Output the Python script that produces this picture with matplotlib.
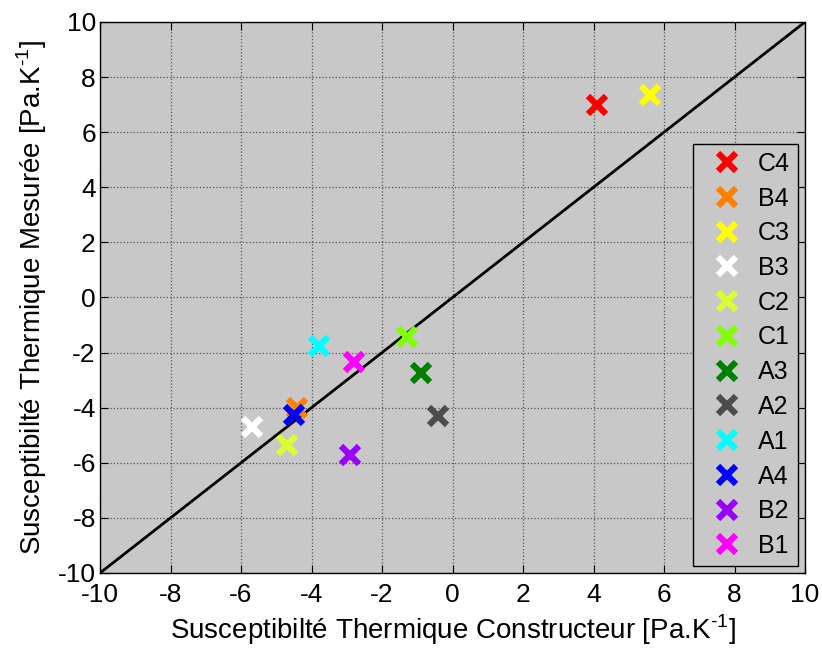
import matplotlib.pyplot as plt
import numpy as np

plt.rcParams['font.family'] = ['Liberation Sans', 'DejaVu Sans']
plt.rcParams['axes.unicode_minus'] = False
plt.rcParams['mathtext.fontset'] = 'custom'
plt.rcParams['mathtext.rm'] = 'Liberation Sans'

# data
labels = ['C4', 'B4', 'C3', 'B3', 'C2', 'C1', 'A3', 'A2', 'A1', 'A4', 'B2', 'B1']
x_constr = [4.1, -4.4, 5.6, -5.7, -4.7, -1.3, -0.9, -0.4, -3.8, -4.5, -2.9, -2.8]
y_mes = [7.0, -4.0, 7.35, -4.7, -5.35, -1.45, -2.75, -4.3, -1.75, -4.25, -5.7, -2.35]
colors = ['#ff0000', '#ff8000', '#ffff00', '#ffffff', '#d9ff33', '#80ff00',
          '#008000', '#4d4d4d', '#00ffff', '#0000ff', '#9900ff', '#ff00ff']

fig = plt.figure(figsize=(8.22, 6.5), dpi=100)
ax = fig.add_axes([100/822, 1-573/650, 705/822, 551/650])
ax.set_facecolor('#c8c8c8')

ax.plot([-10, 10], [-10, 10], color='k', linewidth=2)
for xi, yi, c, lab in zip(x_constr, y_mes, colors, labels):
    ax.plot(xi, yi, 'x', color=c, markersize=13, markeredgewidth=4.5, label=lab)

ax.set_xlim(-10, 10)
ax.set_ylim(-10, 10)
ax.set_xticks(np.arange(-10, 11, 2))
ax.set_yticks(np.arange(-10, 11, 2))
ax.tick_params(direction='in', top=True, right=True, labelsize=19, length=6)
ax.tick_params(axis='x', pad=7)
ax.tick_params(axis='y', pad=3)
ax.grid(True, color='#555555', linestyle=':', linewidth=0.9)
ax.set_axisbelow(True)
for s in ax.spines.values():
    s.set_linewidth(1)

ax.set_xlabel('Susceptibilté Thermique Constructeur [Pa.K$^{\\text{-1}}$]', fontsize=20, labelpad=4)
ax.set_ylabel('Susceptibilté Thermique Mesurée [Pa.K$^{\\text{-1}}$]', fontsize=20, labelpad=6)

leg = ax.legend(loc='lower right', fontsize=18, frameon=True, fancybox=False,
                facecolor='#c8c8c8', edgecolor='k', framealpha=1,
                labelspacing=0.43, handlelength=2.1, handletextpad=0.2,
                borderaxespad=0.3, borderpad=0.3)
leg.get_frame().set_linewidth(1)

plt.savefig('out.png', dpi=100)
